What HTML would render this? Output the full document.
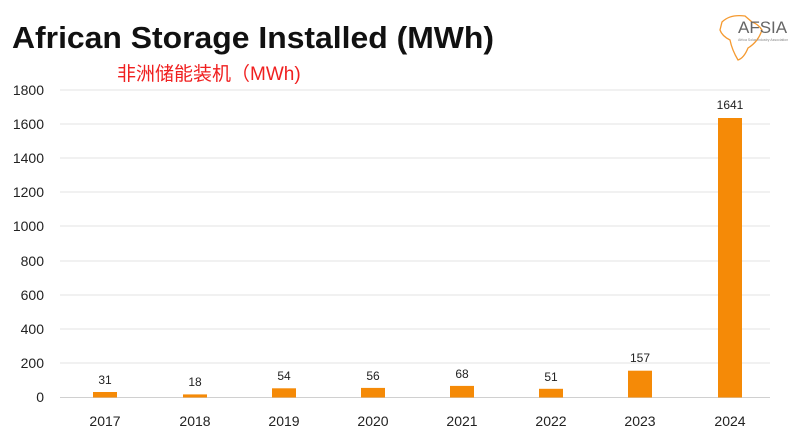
<!DOCTYPE html>
<html><head><meta charset="utf-8"><style>
html,body{margin:0;padding:0;background:#fff;width:800px;height:444px;overflow:hidden}
svg{display:block}
</style></head><body>
<svg width="800" height="444" xmlns="http://www.w3.org/2000/svg" font-family="Liberation Sans, sans-serif">
<text x="12" y="48" font-size="31" font-weight="bold" fill="#111" textLength="482" lengthAdjust="spacingAndGlyphs">African Storage Installed (MWh)</text>
<text x="117" y="80" font-size="19" fill="#f02020" font-family="Liberation Sans, Noto Sans CJK SC, sans-serif">非洲储能装机（MWh)</text>
<g stroke="#e3e3e3" stroke-width="1">
<line x1="60" x2="770" y1="90" y2="90"/><line x1="60" x2="770" y1="124" y2="124"/>
<line x1="60" x2="770" y1="158" y2="158"/><line x1="60" x2="770" y1="192" y2="192"/>
<line x1="60" x2="770" y1="226" y2="226"/><line x1="60" x2="770" y1="261" y2="261"/>
<line x1="60" x2="770" y1="295" y2="295"/><line x1="60" x2="770" y1="329" y2="329"/>
<line x1="60" x2="770" y1="363" y2="363"/></g>
<line x1="60" x2="770" y1="397.5" y2="397.5" stroke="#d0d0d0"/>
<g font-size="14" fill="#222" text-anchor="end">
<text x="44" y="95">1800</text><text x="44" y="129">1600</text><text x="44" y="163">1400</text>
<text x="44" y="197">1200</text><text x="44" y="231">1000</text><text x="44" y="266">800</text>
<text x="44" y="300">600</text><text x="44" y="334">400</text><text x="44" y="368">200</text><text x="44" y="402">0</text></g>
<g fill="#f58a07">
<rect x="93" y="392" width="24" height="5.5"/><rect x="183" y="394.4" width="24" height="3.1"/>
<rect x="272" y="388.3" width="24" height="9.2"/><rect x="361" y="387.9" width="24" height="9.6"/>
<rect x="450" y="385.9" width="24" height="11.6"/><rect x="539" y="388.8" width="24" height="8.7"/>
<rect x="628" y="370.7" width="24" height="26.8"/><rect x="718" y="118" width="24" height="279.5"/></g>
<g font-size="12" fill="#222" text-anchor="middle">
<text x="105" y="384">31</text><text x="195" y="386">18</text><text x="284" y="380">54</text>
<text x="373" y="380">56</text><text x="462" y="378">68</text><text x="551" y="381">51</text>
<text x="640" y="362">157</text><text x="730" y="109">1641</text></g>
<g font-size="14" fill="#222" text-anchor="middle">
<text x="105" y="426">2017</text><text x="195" y="426">2018</text><text x="284" y="426">2019</text>
<text x="373" y="426">2020</text><text x="462" y="426">2021</text><text x="551" y="426">2022</text>
<text x="640" y="426">2023</text><text x="730" y="426">2024</text></g>
<path d="M722 22 Q730 14 745 16 L752 22 Q758 24 762 30 Q758 42 748 48 Q744 58 738 60 Q732 50 730 40 Q722 36 720 30 Z" fill="none" stroke="#f59a30" stroke-width="1.3"/>
<text x="738" y="33" font-size="17" fill="#666">AFSIA</text>
<text x="738" y="41" font-size="3.5" fill="#888">Africa Solar Industry Association</text>
</svg>
</body></html>
